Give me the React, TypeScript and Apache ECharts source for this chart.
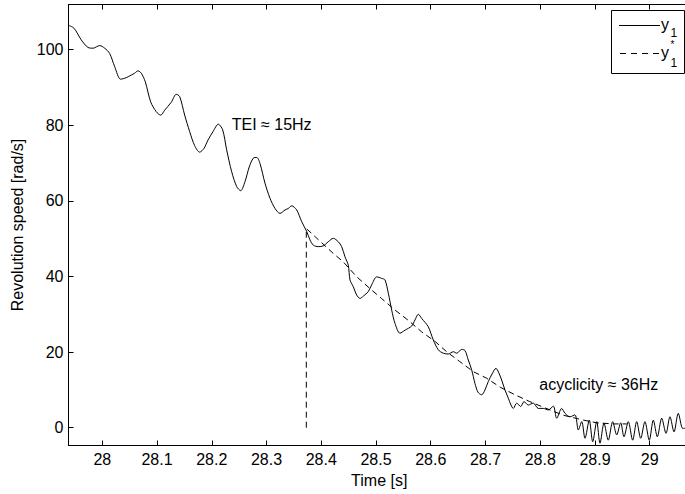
import React, { useEffect, useRef } from 'react';
import * as echarts from 'echarts';

// Measured signal y1 (time [s], speed [rad/s])
const T1 = [
  27.9373, 27.9483, 27.9616, 27.9739, 27.983, 27.9953, 28.0044, 28.0135, 28.0227, 28.0336,
  28.0438, 28.053, 28.0592, 28.0652, 28.0712, 28.0786, 28.0884, 28.0986, 28.1067, 28.114,
  28.126, 28.1352, 28.1414, 28.1505, 28.1597, 28.1688, 28.1779, 28.1858, 28.1931, 28.2022,
  28.2119, 28.2199, 28.2272, 28.2364, 28.2455, 28.2528, 28.2607, 28.2685, 28.2758, 28.2821,
  28.2881, 28.2972, 28.3064, 28.3155, 28.3246, 28.3338, 28.3398, 28.346, 28.3551, 28.3643,
  28.3734, 28.3794, 28.3855, 28.3946, 28.4037, 28.4128, 28.422, 28.4311, 28.4373, 28.4434,
  28.4494, 28.4525, 28.4585, 28.4647, 28.4708, 28.4768, 28.4859, 28.4921, 28.5013, 28.5104,
  28.5164, 28.5225, 28.5287, 28.5347, 28.5438, 28.553, 28.5652, 28.5712, 28.5773, 28.5835,
  28.5955, 28.6047, 28.6138, 28.6229, 28.6321, 28.6412, 28.6474, 28.6565, 28.6626, 28.6686,
  28.6748, 28.6808, 28.6863, 28.6931, 28.6991, 28.7051, 28.7119, 28.7192, 28.7238, 28.7296,
  28.7356, 28.7417, 28.7466, 28.7508, 28.757, 28.7643, 28.7704, 28.7782, 28.7873, 28.7965,
  28.8056, 28.8147, 28.8239, 28.8301, 28.8392, 28.8453, 28.8544, 28.8635, 28.8696, 28.8758,
  28.8818, 28.8896, 28.8959, 28.9032, 28.9092, 28.9165, 28.9243, 28.9324, 28.9397, 28.947,
  28.953, 28.9609, 28.9689, 28.9762, 28.9835, 28.9913, 28.9992, 29.0066, 29.0139, 29.0219,
  29.0298, 29.037, 29.0444, 29.0522, 29.0603, 29.0645, 29.074
];
const Y1 = [
  106.5, 105.7, 102.6, 100.6, 100.4, 101.1, 100.4, 99.0, 95.5, 92.2,
  92.6, 93.3, 93.8, 94.4, 93.8, 91.5, 86.2, 83.6, 82.7, 84.0,
  86.1, 88.2, 87.6, 82.7, 78.3, 74.6, 72.9, 73.9, 76.1, 78.3,
  80.3, 78.8, 73.5, 67.7, 63.8, 62.7, 65.1, 69.0, 71.3, 71.5,
  69.9, 64.7, 60.7, 58.0, 56.7, 57.6, 58.0, 58.7, 57.6, 54.5,
  51.9, 49.7, 48.3, 47.9, 48.1, 49.2, 50.1, 49.2, 47.9, 45.2,
  43.0, 39.1, 37.3, 35.1, 34.2, 34.8, 36.0, 37.8, 39.9, 39.5,
  39.1, 35.6, 31.1, 27.6, 25.0, 25.8, 26.9, 28.5, 30.0, 28.9,
  26.7, 23.2, 20.6, 19.7, 19.5, 20.1, 19.7, 20.7, 20.4, 17.9,
  15.3, 11.7, 9.4, 8.7, 10.0, 12.2, 14.2, 15.7, 14.7, 12.6,
  10.0, 7.8, 6.0, 5.1, 6.5, 5.6, 6.9, 6.0, 6.5, 5.1,
  5.1, 4.7, 5.7, 2.5, 5.1, 3.8, 2.9, 3.4, -0.6, 1.6,
  -2.8, 2.0, -3.7, 1.6, -4.1, 1.2, -3.3, 1.6, -1.9, 1.3,
  -2.4, 1.6, -3.3, 1.6, -2.8, 1.6, -3.3, 2.0, -2.4, 2.5,
  -1.5, 2.9, -1.1, 3.8, -0.2, -0.1, 1.0
];

// Reference y1* (vertical start segment, then decay)
const TS = [
  28.3727, 28.3727, 28.389, 28.422, 28.440, 28.465, 28.489, 28.510, 28.535, 28.559,
  28.583, 28.608, 28.629, 28.653, 28.678, 28.702, 28.727, 28.754, 28.781, 28.806,
  28.842, 28.879, 28.903, 28.934, 28.958
];
const YS = [
  0, 52.7, 50.5, 46.1, 43.9, 39.9, 36.8, 34.2, 31.1, 28.4,
  25.4, 22.8, 20.1, 17.5, 14.8, 13.1, 10.7, 8.7, 6.9, 5.4,
  3.3, 2.0, 1.3, 1.0, 1.0
];

const ANNOT_TEXT = ['TEI \u2248 15Hz', 'acyclicity \u2248 36Hz'];
const ANNOT_T = [28.2364, 28.7983];
const ANNOT_Y = [80.1, 11.3];

const X_MIN = 27.9383;
const X_MAX = 29.0736;
const Y_MIN = -4.71;
const Y_MAX = 111.96;

const FONT = '"Liberation Sans", Arial, Helvetica, sans-serif';

export default function App() {
  const ref = useRef<HTMLDivElement>(null);
  useEffect(() => {
    if (!ref.current) return;
    const chart = echarts.init(ref.current, undefined, { renderer: 'svg' });
    const axisCommonX = {
      type: 'value' as const,
      min: X_MIN,
      max: X_MAX,
      splitNumber: 10,
      minInterval: 0.1,
      maxInterval: 0.1,
      splitLine: { show: false },
      axisLine: { show: true, onZero: false, lineStyle: { color: '#000', width: 1 } },
      axisTick: { show: true, inside: true, length: 5, lineStyle: { color: '#000', width: 1 } },
    };
    chart.setOption({
      animation: false,
      backgroundColor: '#fff',
      textStyle: { fontFamily: FONT },
      grid: { left: 68.5, right: 0, top: 4.5, bottom: 48.5, containLabel: false },
      xAxis: [
        {
          ...axisCommonX,
          position: 'bottom',
          name: 'Time [s]',
          nameLocation: 'middle',
          nameGap: 23,
          nameTextStyle: { color: '#000', fontSize: 16, fontFamily: FONT },
          axisLabel: {
            color: '#000', fontSize: 16, fontFamily: FONT, margin: 6,
            showMinLabel: false, showMaxLabel: false,
          },
        },
        {
          ...axisCommonX,
          position: 'top',
          axisLabel: { show: false },
        },
      ],
      yAxis: [
        {
          type: 'value',
          min: Y_MIN,
          max: Y_MAX,
          splitNumber: 6,
          minInterval: 20,
          maxInterval: 20,
          splitLine: { show: false },
          axisLine: { show: true, onZero: false, lineStyle: { color: '#000', width: 1 } },
          axisTick: { show: true, inside: true, length: 5, lineStyle: { color: '#000', width: 1 } },
          axisLabel: {
            color: '#000', fontSize: 16, fontFamily: FONT, margin: 5,
            showMinLabel: false, showMaxLabel: false,
          },
          name: 'Revolution speed [rad/s]',
          nameLocation: 'middle',
          nameGap: 34,
          nameTextStyle: { color: '#000', fontSize: 16, fontFamily: FONT },
        },
      ],
      series: [
        {
          name: 'y1',
          type: 'line',
          data: T1.map((t, i) => [t, Y1[i]]),
          showSymbol: false,
          smooth: 0.3,
          lineStyle: { color: '#000', width: 1 },
          itemStyle: { color: '#000' },
          z: 3,
          markPoint: {
            symbol: 'circle',
            symbolSize: 0,
            silent: true,
            label: {
              show: true,
              position: 'right',
              distance: 0,
              color: '#000',
              fontSize: 16,
              fontFamily: FONT,
              formatter: (p: any) => p.name,
            },
            data: ANNOT_TEXT.map((n, i) => ({ name: n, coord: [ANNOT_T[i], ANNOT_Y[i]] })),
          },
        },
        {
          name: 'y1*',
          type: 'line',
          data: TS.map((t, i) => [t, YS[i]]),
          showSymbol: false,
          lineStyle: { color: '#000', width: 1, type: [6, 4] },
          itemStyle: { color: '#000' },
          z: 2,
        },
      ],
      graphic: [
        {
          type: 'rect', z: 100,
          shape: { x: 611.5, y: 10.5, width: 73, height: 63 },
          style: { fill: '#fff', stroke: '#000', lineWidth: 1 },
        },
        {
          type: 'line', z: 101,
          shape: { x1: 619, y1: 25.5, x2: 660, y2: 25.5 },
          style: { stroke: '#000', lineWidth: 1 },
        },
        {
          type: 'line', z: 101,
          shape: { x1: 620, y1: 53.5, x2: 660, y2: 53.5 },
          style: { stroke: '#000', lineWidth: 1, lineDash: [6, 5] },
        },
        {
          type: 'text', z: 101, x: 661, y: 24,
          style: { text: 'y', font: `16px ${FONT}`, fill: '#000', verticalAlign: 'middle' },
        },
        {
          type: 'text', z: 101, x: 670.5, y: 32.5,
          style: { text: '1', font: `12px ${FONT}`, fill: '#000', verticalAlign: 'middle' },
        },
        {
          type: 'text', z: 101, x: 661, y: 52,
          style: { text: 'y', font: `16px ${FONT}`, fill: '#000', verticalAlign: 'middle' },
        },
        {
          type: 'text', z: 101, x: 670.5, y: 62.5,
          style: { text: '1', font: `12px ${FONT}`, fill: '#000', verticalAlign: 'middle' },
        },
        {
          type: 'text', z: 101, x: 670.5, y: 44.5,
          style: { text: '*', font: `10px ${FONT}`, fill: '#000', verticalAlign: 'middle' },
        },
      ],
    });
    return () => chart.dispose();
  }, []);
  return (
    <div style={{ position: 'absolute', left: 0, top: 0, width: 685, height: 494, overflow: 'hidden', background: '#fff' }}>
      <div ref={ref} style={{ width: 690, height: 494 }} />
    </div>
  );
}
